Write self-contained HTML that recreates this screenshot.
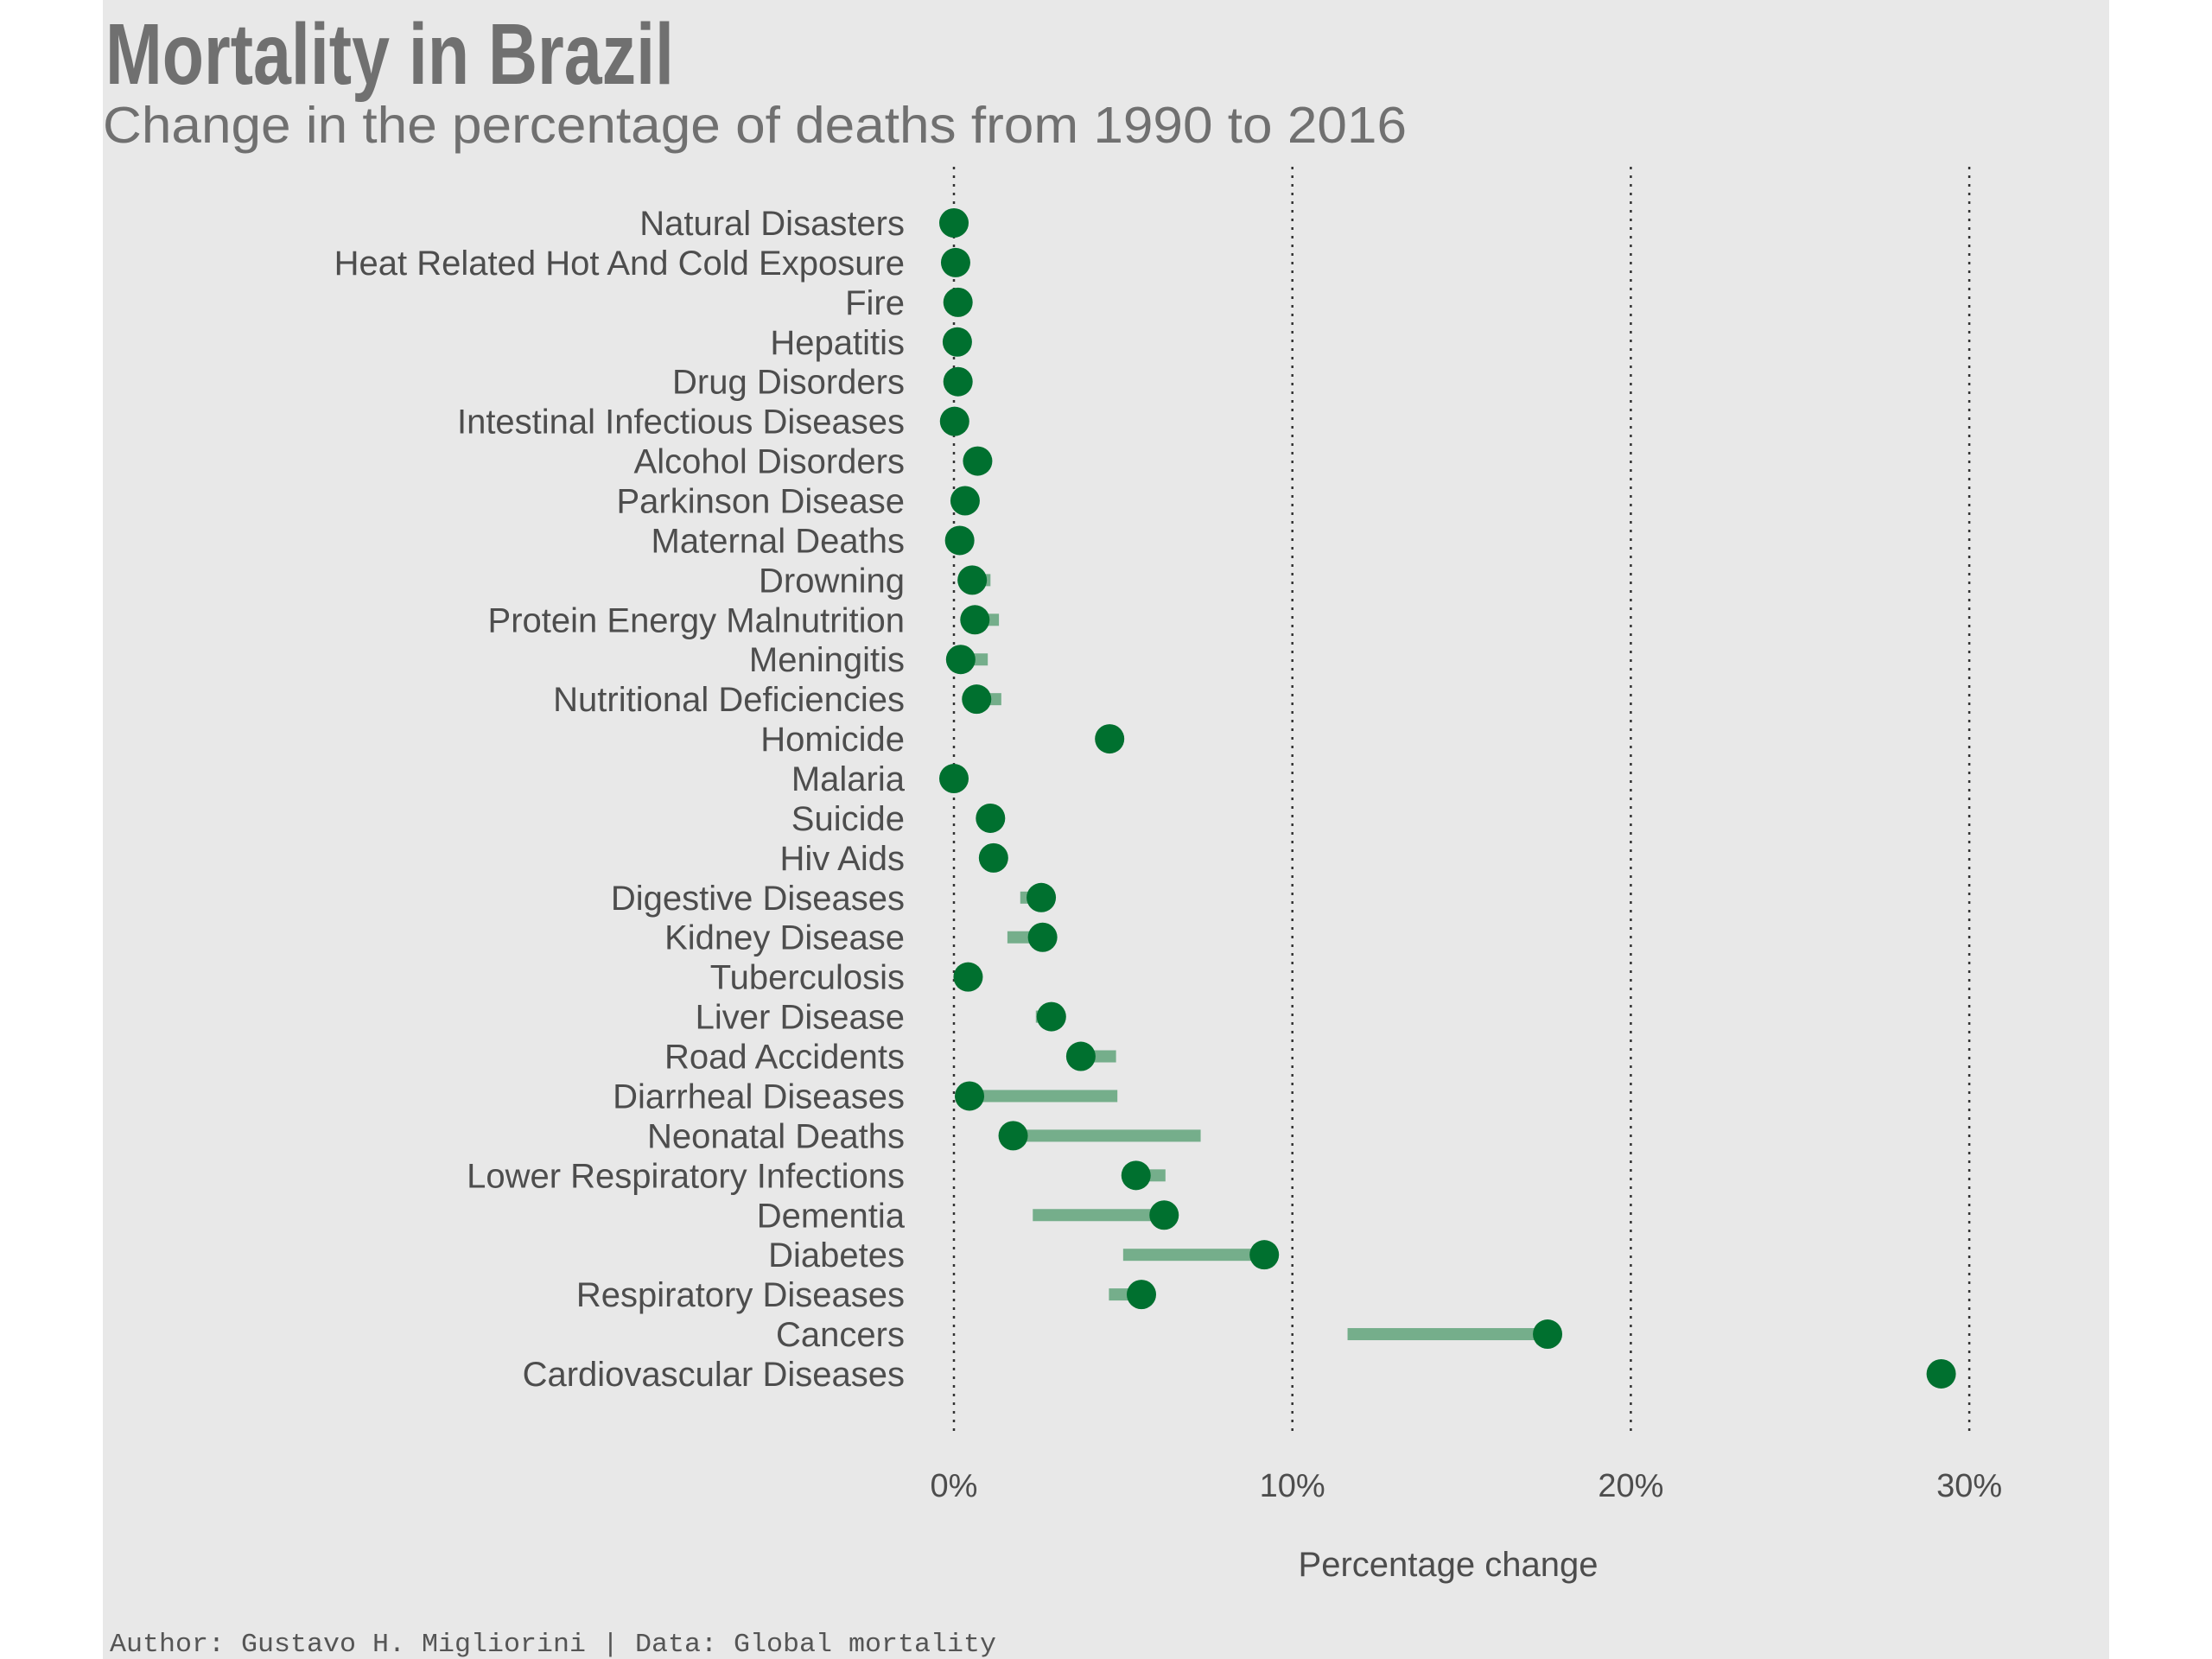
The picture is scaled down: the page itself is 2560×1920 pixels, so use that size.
<!DOCTYPE html>
<html><head><meta charset="utf-8"><style>
html,body{margin:0;padding:0;background:#fff;}
svg{display:block;}
</style></head><body>
<svg id="chart" width="2560" height="1920" viewBox="0 0 2560 1920" xmlns="http://www.w3.org/2000/svg">
<rect x="119" y="0" width="2322" height="1920" fill="#e8e8e8"/>
<text x="122" y="97" font-family="'Liberation Sans Narrow','Liberation Sans',sans-serif" font-weight="bold" font-size="100" fill="#707070" textLength="658" lengthAdjust="spacingAndGlyphs">Mortality in Brazil</text>
<text x="119" y="165" font-family="'Liberation Sans',sans-serif" font-size="59" fill="#707070" textLength="1509" lengthAdjust="spacingAndGlyphs">Change in the percentage of deaths from 1990 to 2016</text>
<g id="grid"></g>
<g id="bars"></g>
<g id="labels"></g>
<text x="1676" y="1824" text-anchor="middle" font-family="'Liberation Sans',sans-serif" font-size="40" fill="#4d4d4d">Percentage change</text>
<text x="127" y="1911" font-family="'Liberation Mono',monospace" font-size="31" fill="#555" textLength="1026" lengthAdjust="spacingAndGlyphs">Author: Gustavo H. Migliorini | Data: Global mortality</text>
</svg>
<script>
const categories = ["Natural Disasters","Heat Related Hot And Cold Exposure","Fire","Hepatitis","Drug Disorders","Intestinal Infectious Diseases","Alcohol Disorders","Parkinson Disease","Maternal Deaths","Drowning","Protein Energy Malnutrition","Meningitis","Nutritional Deficiencies","Homicide","Malaria","Suicide","Hiv Aids","Digestive Diseases","Kidney Disease","Tuberculosis","Liver Disease","Road Accidents","Diarrheal Diseases","Neonatal Deaths","Lower Respiratory Infections","Dementia","Diabetes","Respiratory Diseases","Cancers","Cardiovascular Diseases"];
const values1990 = [0.0,0.05,0.12,0.1,0.12,0.02,0.7,0.33,0.17,1.08,1.33,1.0,1.4,4.5,0.0,1.08,1.17,1.96,1.58,0.42,2.42,4.79,4.83,7.29,6.25,2.33,5.0,4.58,11.63,29.3];
const values2016 = [0.0,0.05,0.12,0.1,0.12,0.02,0.7,0.33,0.17,0.54,0.62,0.2,0.67,4.6,0.0,1.08,1.17,2.58,2.62,0.42,2.88,3.75,0.46,1.75,5.38,6.21,9.17,5.54,17.54,29.17];
const ticks = [0,10,20,30];
const tickLabels = ["0%","10%","20%","30%"];

const NS="http://www.w3.org/2000/svg";
function xs(v){return 1104+v*39.17;}
function ys(i){return 258+i*45.93;}
function mk(tag,attrs,parent){const e=document.createElementNS(NS,tag);for(const k in attrs)e.setAttribute(k,attrs[k]);parent.appendChild(e);return e;}
const grid=document.getElementById('grid'),bars=document.getElementById('bars'),labels=document.getElementById('labels');
ticks.forEach((t,i)=>{
  const l=mk('line',{x1:xs(t),x2:xs(t),y1:193,y2:1658,stroke:'#333','stroke-width':2.5,'stroke-dasharray':'3 7'},grid);
  
  
  const tx=mk('text',{x:xs(t),y:1732,'text-anchor':'middle','font-family':"'Liberation Sans',sans-serif",'font-size':38,fill:'#4d4d4d'},grid);
  tx.textContent=tickLabels[i];
  
  
});
categories.forEach((c,i)=>{
  const y=ys(i);
  const a=Math.min(values1990[i],values2016[i]),b=Math.max(values1990[i],values2016[i]);
  const r=mk('rect',{x:xs(a),y:y-7,width:Math.max(0,xs(b)-xs(a)),height:14,fill:'#75ae8b'},bars);
  
  
  const d=mk('circle',{cx:xs(values2016[i]),cy:y,r:17,fill:'#00702f'},bars);
  
  
  const t=mk('text',{x:1047,y:y+14,'text-anchor':'end','font-family':"'Liberation Sans',sans-serif",'font-size':40,fill:'#4d4d4d'},labels);
  t.textContent=c;
  
  
});
</script>
</body></html>
